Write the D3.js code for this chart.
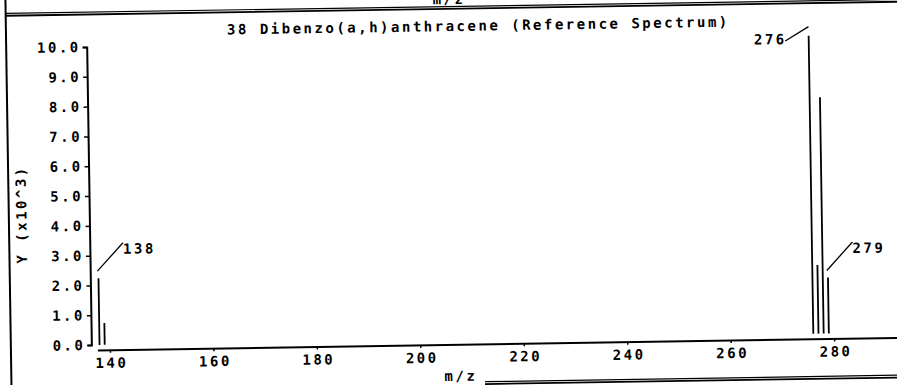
<!DOCTYPE html>
<html>
<head>
<meta charset="utf-8">
<script src="https://cdn.jsdelivr.net/npm/d3@7"></script>
<style>
  html, body { margin: 0; padding: 0; background: #fff; }
  svg { display: block; }
  text { font-family: "DejaVu Sans Mono", monospace; font-size: 14px; font-weight: bold; letter-spacing: 2.5px; fill: #000; }
</style>
</head>
<body>
<script>
// ---- data ----
const title = "38 Dibenzo(a,h)anthracene (Reference Spectrum)";
const mz = [138, 139, 276, 277, 278, 279];
const intensity = [2.24, 0.73, 10.0, 2.30, 7.93, 1.88]; // x10^3
const labeledPeaks = [138, 276, 279];
const xTicks = [140, 160, 180, 200, 220, 240, 260, 280];
const yTicks = [0, 1, 2, 3, 4, 5, 6, 7, 8, 9, 10];
const xLabel = "m/z";
const yLabel = "Y (x10^3)";

const W = 897, H = 385;
const svg = d3.select("body").append("svg").attr("width", W).attr("height", H);
svg.append("rect").attr("width", W).attr("height", H).attr("fill", "#fff");

// scanned page is tilted slightly
const g = svg.append("g").attr("transform", "rotate(-0.9, 450, 192)");

const x = d3.scaleLinear().domain([137.58, 292.5]).range([95, 896.4]);
const y = d3.scaleLinear().domain([0, 10]).range([339.4, 41.3]);

// frame lines of the page
g.append("line").attr("x1", 8.5).attr("x2", 8.5).attr("y1", -30).attr("y2", 420)
  .attr("stroke", "#000").attr("stroke-width", 2);
g.append("line").attr("x1", 8.5).attr("x2", 920).attr("y1", 6.5).attr("y2", 6.5)
  .attr("stroke", "#000").attr("stroke-width", 1.2);
g.append("line").attr("x1", 8.5).attr("x2", 920).attr("y1", 8.8).attr("y2", 8.8)
  .attr("stroke", "#000").attr("stroke-width", 1.8);
g.append("text").attr("x", 452).attr("y", 4).attr("text-anchor", "middle").text(xLabel);
g.append("line").attr("x1", 482).attr("x2", 920).attr("y1", 382.2).attr("y2", 382.2)
  .attr("stroke", "#000").attr("stroke-width", 1.2);
g.append("line").attr("x1", 482).attr("x2", 920).attr("y1", 384.6).attr("y2", 384.6)
  .attr("stroke", "#000").attr("stroke-width", 1.8);

// title
g.append("text").attr("x", 481).attr("y", 31).attr("text-anchor", "middle").text(title);

// x axis
const xAxis = g.append("g").attr("transform", "translate(0,344.5)")
  .call(d3.axisBottom(x).tickValues(xTicks).tickFormat(d3.format("d"))
    .tickSize(3).tickSizeOuter(0).tickPadding(5));
xAxis.select(".domain").attr("stroke-width", 2);
xAxis.selectAll(".tick line").attr("stroke-width", 1.5);
xAxis.selectAll("text").attr("font-family", null).attr("font-size", null).attr("fill", "#000")
  .attr("dx", "1.25");
g.append("line").attr("x1", x.range()[1] - 1).attr("x2", 930).attr("y1", 344.5).attr("y2", 344.5)
  .attr("stroke", "#000").attr("stroke-width", 2);

// y axis
const yAxis = g.append("g").attr("transform", "translate(89,0)")
  .call(d3.axisLeft(y).tickValues(yTicks).tickFormat(d3.format(".1f"))
    .tickSize(4).tickSizeOuter(4).tickPadding(2));
yAxis.select(".domain").attr("stroke-width", 2);
yAxis.selectAll(".tick line").attr("stroke-width", 1.5);
yAxis.selectAll("text").attr("font-family", null).attr("font-size", null).attr("fill", "#000");

// axis titles
g.append("text").attr("transform", "translate(26,209) rotate(-90)")
  .attr("text-anchor", "middle").attr("dx", "1.25").text(yLabel);
g.append("text").attr("x", 458).attr("y", 381).attr("text-anchor", "middle").text(xLabel);

// peaks
const peaks = mz.map((m, i) => ({ m, v: intensity[i] }));
g.selectAll("line.peak").data(peaks).enter().append("line").attr("class", "peak")
  .attr("x1", d => x(d.m)).attr("x2", d => x(d.m))
  .attr("y1", y(0)).attr("y2", d => y(d.v))
  .attr("stroke", "#000").attr("stroke-width", 1.8);

// peak annotations
peaks.filter(d => labeledPeaks.includes(d.m)).forEach(d => {
  const px = x(d.m), py = y(d.v);
  if (d.v >= 9.5) {
    g.append("line").attr("x1", px).attr("y1", py - 9).attr("x2", px - 23.5).attr("y2", py + 5)
      .attr("stroke", "#000").attr("stroke-width", 1.3);
    g.append("text").attr("x", px - 22).attr("y", py + 8).attr("text-anchor", "end").text(d.m);
  } else {
    g.append("line").attr("x1", px - 1).attr("y1", py - 7).attr("x2", px + 25).attr("y2", py - 35)
      .attr("stroke", "#000").attr("stroke-width", 1.3);
    g.append("text").attr("x", px + 25).attr("y", py - 24).text(d.m);
  }
});
</script>
</body>
</html>
